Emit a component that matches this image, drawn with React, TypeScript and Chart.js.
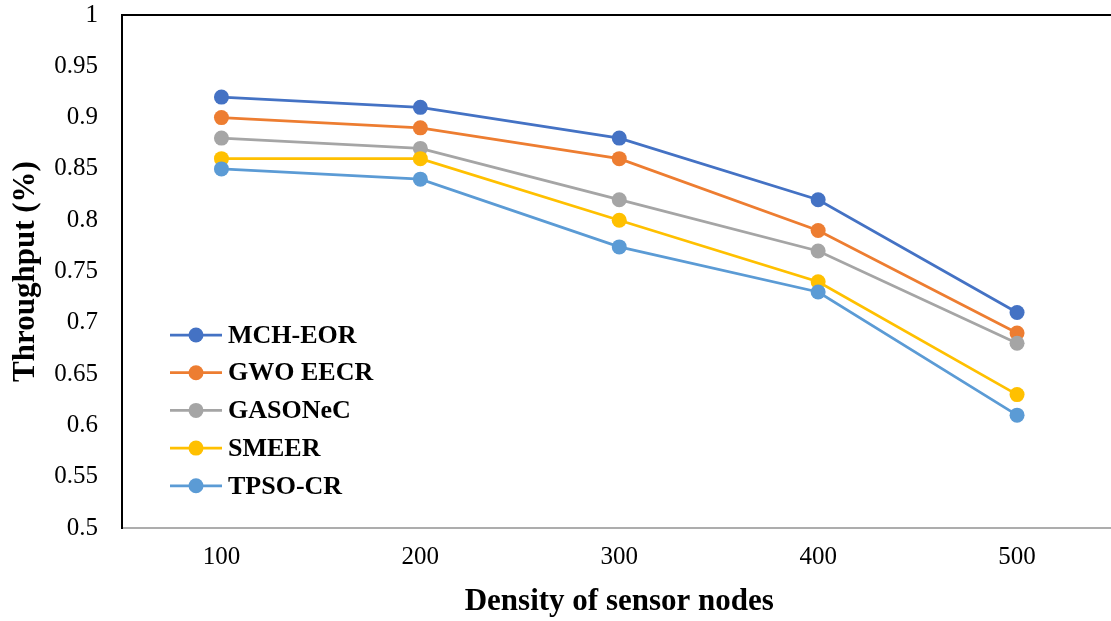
import React, { useEffect, useRef } from "react";
import { Chart, registerables } from "chart.js";

Chart.register(...registerables);

const categories = ["100", "200", "300", "400", "500"];
const mchEor = [0.92, 0.91, 0.88, 0.82, 0.71];
const gwoEecr = [0.9, 0.89, 0.86, 0.79, 0.69];
const gasonec = [0.88, 0.87, 0.82, 0.77, 0.68];
const smeer = [0.86, 0.86, 0.8, 0.74, 0.63];
const tpsoCr = [0.85, 0.84, 0.774, 0.73, 0.61];
const seriesNames = ["MCH-EOR", "GWO EECR", "GASONeC", "SMEER", "TPSO-CR"];
const seriesValues = [mchEor, gwoEecr, gasonec, smeer, tpsoCr];
const seriesColors = ["#4472C4", "#ED7D31", "#A5A5A5", "#FFC000", "#5B9BD5"];
const yMin = 0.5;
const yMax = 1;
const yStep = 0.05;
const xTitle = "Density of sensor nodes";
const yTitle = "Throughput (%)";

const FONT = "'Liberation Serif', 'Times New Roman', serif";

const innerLegend = {
  id: "innerLegend",
  afterDraw(chart: any) {
    const ctx = chart.ctx;
    const area = chart.chartArea;
    // top frame line
    ctx.save();
    ctx.strokeStyle = "#000";
    ctx.lineWidth = 2;
    ctx.beginPath();
    ctx.moveTo(area.left, area.top);
    ctx.lineTo(area.right, area.top);
    ctx.stroke();

    const x0 = area.left + 48;
    const y0 = 335;
    const gap = 37.7;
    ctx.font = `bold 26px ${FONT}`;
    ctx.textBaseline = "middle";
    ctx.textAlign = "left";
    chart.data.datasets.forEach((ds: any, i: number) => {
      const y = y0 + i * gap;
      ctx.strokeStyle = ds.borderColor;
      ctx.lineWidth = 2.75;
      ctx.beginPath();
      ctx.moveTo(x0, y);
      ctx.lineTo(x0 + 52, y);
      ctx.stroke();
      ctx.fillStyle = ds.backgroundColor;
      ctx.beginPath();
      ctx.arc(x0 + 26, y, 7.5, 0, Math.PI * 2);
      ctx.fill();
      ctx.fillStyle = "#000";
      ctx.fillText(ds.label, x0 + 58, y + 1);
    });
    ctx.restore();
  },
};

export default function App() {
  const ref = useRef<HTMLCanvasElement | null>(null);

  useEffect(() => {
    if (!ref.current) return;
    const chart = new Chart(ref.current, {
      type: "line",
      data: {
        labels: categories,
        datasets: seriesNames.map((name, i) => ({
          label: name,
          data: seriesValues[i],
          borderColor: seriesColors[i],
          backgroundColor: seriesColors[i],
          pointBackgroundColor: seriesColors[i],
          pointBorderColor: seriesColors[i],
          pointRadius: 7.5,
          pointBorderWidth: 0,
          borderWidth: 2.75,
          tension: 0,
          fill: false,
          order: seriesNames.length - i,
          clip: false as any,
        })),
      },
      options: {
        responsive: false,
        animation: false,
        devicePixelRatio: 1,
        layout: { padding: { top: 15, left: 0, right: 0, bottom: 0 } },
        plugins: {
          legend: { display: false },
          tooltip: { enabled: false },
        },
        scales: {
          x: {
            type: "category",
            offset: true,
            grid: { display: false, drawTicks: false },
            border: { display: true, color: "#ADADAD", width: 2 },
            ticks: {
              color: "#000",
              padding: 14,
              font: { family: FONT, size: 25 },
            },
            title: {
              display: true,
              text: xTitle,
              color: "#000",
              padding: { top: 6, bottom: 0 },
              font: { family: FONT, size: 31, weight: "bold" },
            },
            afterFit(scale: any) {
              scale.height = 93;
              scale.paddingLeft = 0;
              scale.paddingRight = 0;
            },
          },
          y: {
            min: yMin,
            max: yMax,
            grid: { display: false, drawTicks: false },
            border: { display: true, color: "#000", width: 2 },
            ticks: {
              stepSize: yStep,
              color: "#000",
              padding: 24,
              font: { family: FONT, size: 25 },
              callback: (v: any) => String(parseFloat(Number(v).toFixed(2))),
            },
            title: {
              display: true,
              text: yTitle,
              color: "#000",
              padding: { top: 7, bottom: 0 },
              font: { family: FONT, size: 31, weight: "bold" },
            },
            afterFit(scale: any) {
              scale.width = 122;
              scale.paddingTop = 0;
              scale.paddingBottom = 0;
            },
          },
        },
      },
      plugins: [innerLegend],
    });
    return () => chart.destroy();
  }, []);

  return (
    <div
      style={{
        position: "fixed",
        left: 0,
        top: 0,
        width: 1111,
        height: 621,
        overflow: "hidden",
        background: "#fff",
      }}
    >
      <canvas ref={ref} width={1124} height={621} style={{ display: "block" }} />
    </div>
  );
}
